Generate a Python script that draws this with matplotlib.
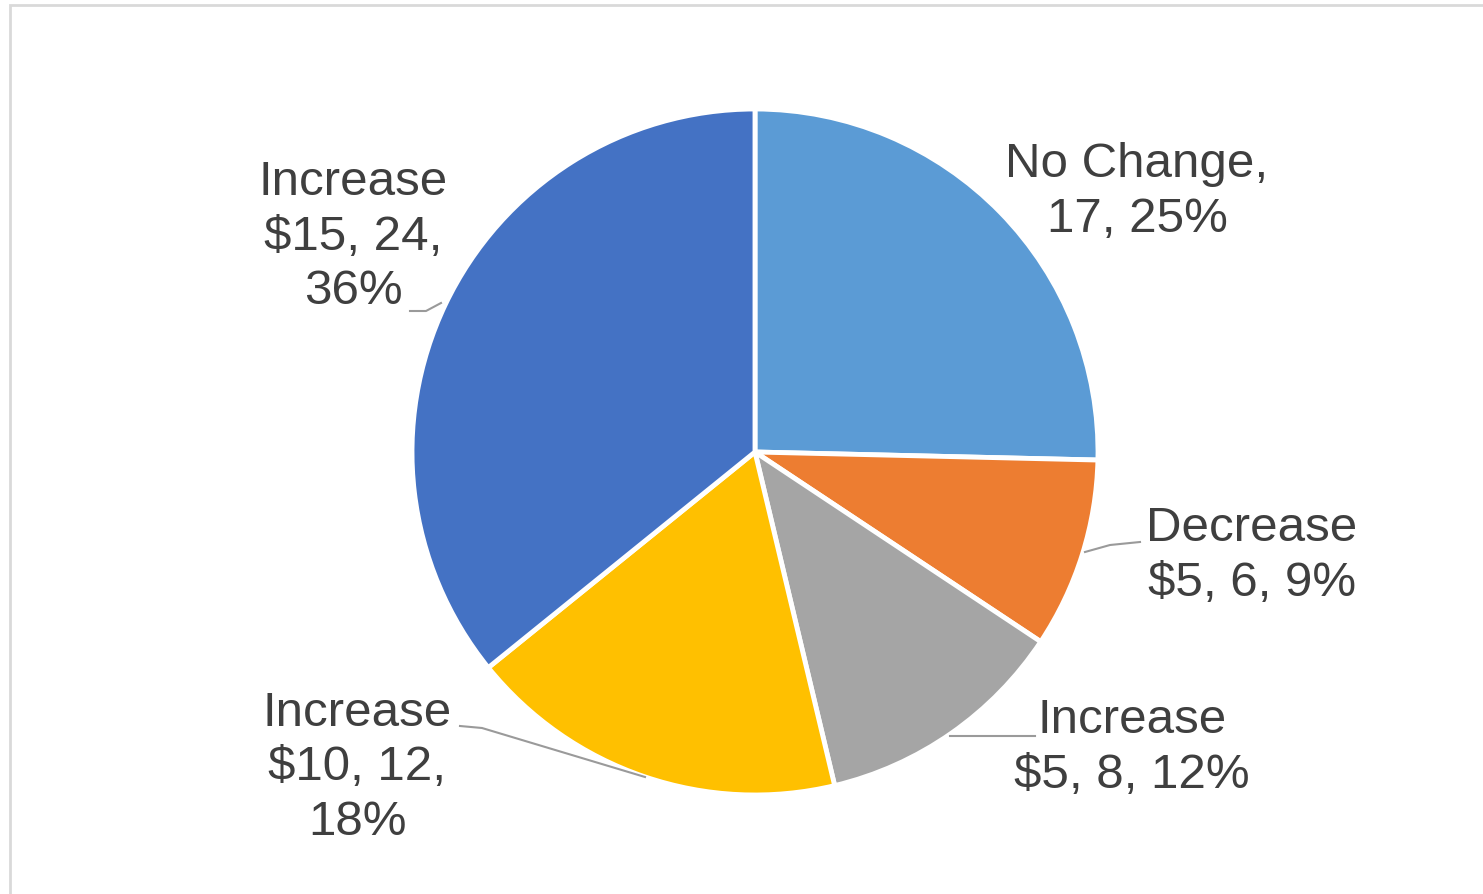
import matplotlib.pyplot as plt
from matplotlib.patches import Rectangle

# data
labels = ["No Change", "Decrease\n$5", "Increase\n$5", "Increase\n$10", "Increase\n$15"]
counts = [17, 6, 8, 12, 24]
colors = ["#5B9BD5", "#ED7D31", "#A5A5A5", "#FFC000", "#4472C4"]

W, H = 1483, 895
CX, CY, R = 755, 453, 343

# label centres (pixel coords, y from top) and label text layout
label_pos = [(1137, 192), (1252, 556), (1132, 748), (357, 768), (353, 237)]
label_text = [
    "No Change,\n17, 25%",
    "Decrease\n$5, 6, 9%",
    "Increase\n$5, 8, 12%",
    "Increase\n$10, 12,\n18%",
    "Increase\n$15, 24,\n36%",
]
leaders = [
    None,
    [(1140, 543), (1110, 546), (1085, 553)],
    [(1035, 737), (950, 737)],
    [(460, 727), (482, 729), (645, 778)],
    [(410, 312), (426, 312), (441, 304)],
]

fig = plt.figure(figsize=(W / 100, H / 100), dpi=100)
ax = fig.add_axes([0, 0, 1, 1])
plt.rcParams['font.family'] = ['Liberation Sans', 'DejaVu Sans']

ax.pie(counts, colors=colors, startangle=90, counterclock=False,
       center=(CX, H - CY), radius=R,
       wedgeprops=dict(edgecolor="white", linewidth=3.5))
ax.set_xlim(0, W)
ax.set_ylim(0, H)
ax.set_aspect("auto")
ax.axis("off")

for (x, y), t in zip(label_pos, label_text):
    ax.text(x, H - y, t, ha="center", va="center", fontsize=35.5,
            color="#3F3F3F", linespacing=1.28)

for pts in leaders:
    if pts is None:
        continue
    xs = [p[0] for p in pts]
    ys = [H - p[1] for p in pts]
    ax.plot(xs, ys, color="#9A9A9A", linewidth=1.5)

# chart area border (cut off at right and bottom)
fig.patches.append(Rectangle((10 / W, -0.1), 1.2, 1 - 6 / H + 0.1,
                             transform=fig.transFigure, fill=False,
                             edgecolor="#D9D9D9", linewidth=2))

fig.savefig("out.png", dpi=100)
